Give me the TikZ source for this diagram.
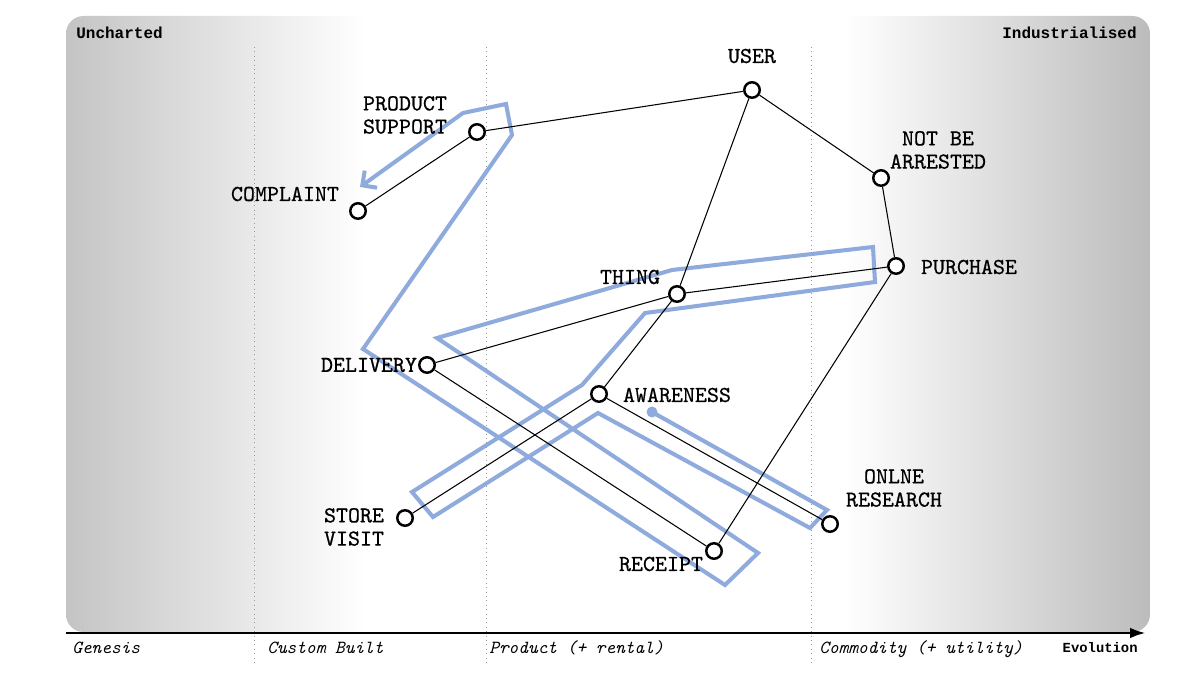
\documentclass[tikz,border=0pt]{standalone}
\usepackage{fontspec}
\newfontfamily\lblfont{lmmono10-regular.otf}[FakeBold=0.6]
\newfontfamily\heavymono{Liberation Mono}
\usetikzlibrary{arrows.meta}
\definecolor{flowblue}{RGB}{143,170,220}
\definecolor{bgL}{RGB}{196,196,196}
\definecolor{bgR}{RGB}{188,188,188}
\begin{document}
\begin{tikzpicture}[x=0.02cm,y=-0.02cm,
  comp/.style={circle,draw=black,line width=1.4pt,fill=white,minimum size=0.31cm,inner sep=0pt},
  lbl/.style={font=\lblfont\fontsize{13}{13.2}\selectfont,align=center,inner sep=0pt},
  stage/.style={font=\ttfamily\itshape\fontsize{10.5}{11}\selectfont,inner sep=0pt,anchor=base west},
  corner/.style={font=\heavymono\bfseries\fontsize{9.1}{11}\selectfont,inner sep=0pt},
  link/.style={line width=0.6pt,draw=black},
  flow/.style={draw=flowblue,line width=2.3pt,line join=miter},
  gridline/.style={draw=gray!80,dotted,line width=0.5pt}]
\useasboundingbox (0,0) rectangle (1200,675);
% background
\begin{scope}
\clip[rounded corners=10] (66,16) rectangle (1150,632);
\fill[white] (66,16) rectangle (1150,632);
\shade[left color=bgL,right color=white] (66,16) rectangle (365,632);
\shade[left color=white,right color=bgR] (845,16) rectangle (1150,632);
\end{scope}
% stage separators
\foreach \gx in {254,486,811} \draw[gridline] (\gx,47) -- (\gx,664);
% axis
\coordinate (axs) at (66,633);
\coordinate (axe) at (1146,633);
\draw[line width=1.7pt,-{Latex[length=9pt,width=6pt]}] (axs) -- (axe);
\node[corner,anchor=base west] (unch) at (76,39) {Uncharted};
\node[corner,anchor=base east] (indu) at (1137,39) {Industrialised};
\node[stage] (s1) at (72,653) {Genesis};
\node[stage] (s2) at (267,653) {Custom Built};
\node[stage] (s3) at (489,653) {Product (+ rental)};
\node[stage] (s4) at (819,653) {Commodity (+ utility)};
\node[corner,font=\heavymono\bfseries\fontsize{7.9}{9}\selectfont,anchor=base east] (evo) at (1138,652) {Evolution};
% blue flow path
\fill[flowblue] (652,412) circle (5.5);
\draw[flow,-{Straight Barb[length=6pt,width=12pt]}] (652,412) -- (827,510) -- (810,528) -- (598,413) -- (433,517) -- (412,492) -- (582,385) -- (645,313) -- (875,282) -- (873,247) -- (672,270) -- (437,338) -- (758,553) -- (725,585) -- (363,349) -- (512,135) -- (506,104) -- (463,113) -- (360,187);
% components
\node[comp] (user) at (752,90) {};
\node[comp] (psup) at (477,132) {};
\node[comp] (compl) at (358,211) {};
\node[comp] (nba) at (881,178) {};
\node[comp] (purch) at (896,266) {};
\node[comp] (thing) at (677,294) {};
\node[comp] (deliv) at (427,365) {};
\node[comp] (aware) at (599,394) {};
\node[comp] (store) at (405,518) {};
\node[comp] (rcpt) at (714,551) {};
\node[comp] (onl) at (830,524) {};
% links
\draw[link] (user) -- (psup);
\draw[link] (user) -- (nba);
\draw[link] (user) -- (thing);
\draw[link] (nba) -- (purch);
\draw[link] (psup) -- (compl);
\draw[link] (thing) -- (purch);
\draw[link] (thing) -- (deliv);
\draw[link] (thing) -- (aware);
\draw[link] (purch) -- (rcpt);
\draw[link] (deliv) -- (rcpt);
\draw[link] (aware) -- (store);
\draw[link] (aware) -- (onl);
% labels
\node[lbl] (userL) at (752,56) {USER};
\node[lbl] (psupL) at (405,115) {PRODUCT\\SUPPORT};
\node[lbl] (complL) at (285,194) {COMPLAINT};
\node[lbl] (nbaL) at (938,150) {NOT BE\\ARRESTED};
\node[lbl] (purchL) at (969,267) {PURCHASE};
\node[lbl] (thingL) at (630,277) {THING};
\node[lbl] (delivL) at (369,365) {DELIVERY};
\node[lbl] (awareL) at (677,395) {AWARENESS};
\node[lbl] (storeL) at (354,527) {STORE\\VISIT};
\node[lbl] (rcptL) at (661,564) {RECEIPT};
\node[lbl] (onlL) at (894,488) {ONLNE\\RESEARCH};
\end{tikzpicture}
\end{document}
